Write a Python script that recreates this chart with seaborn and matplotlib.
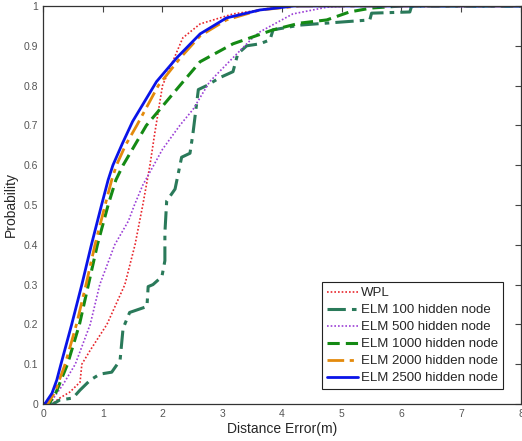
import matplotlib
matplotlib.use('Agg')
import matplotlib.pyplot as plt
import seaborn as sns

# CDF curves
wpl_x = [0, 0.15, 0.28, 0.45, 0.62, 0.65, 0.79, 1.07, 1.37, 1.54, 1.67, 1.79, 1.87, 2.0, 2.17, 2.34, 2.63, 3.18, 3.63, 4.0, 8]
wpl_y = [0, 0.0, 0.015, 0.03, 0.055, 0.10, 0.135, 0.20, 0.30, 0.40, 0.50, 0.60, 0.68, 0.80, 0.86, 0.92, 0.955, 0.98, 0.99, 1.0, 1.0]

elm100_x = [0, 0.17, 0.28, 0.5, 0.62, 0.79, 0.95, 1.15, 1.29, 1.34, 1.45, 1.74, 1.76, 1.84, 1.99, 2.04, 2.04, 2.07,
            2.21, 2.32, 2.46, 2.51, 2.6, 2.74, 2.96, 3.18, 3.26, 3.41, 3.63, 3.8, 3.85, 4.3, 5.47, 5.5, 6.14, 6.17, 8]
elm100_y = [0, 0, 0.01, 0.015, 0.035, 0.06, 0.075, 0.08, 0.11, 0.19, 0.23, 0.245, 0.295, 0.30, 0.32, 0.36, 0.43, 0.51,
            0.54, 0.62, 0.63, 0.68, 0.79, 0.80, 0.82, 0.835, 0.88, 0.90, 0.905, 0.915, 0.94, 0.952, 0.965, 0.982, 0.985, 1.0, 1.0]

elm500_x = [0, 0.12, 0.2, 0.34, 0.54, 0.79, 0.95, 1.2, 1.43, 1.53, 1.67, 2.0, 2.29, 2.51, 2.79, 3.18, 3.51, 3.63, 4.18, 4.75, 5.1, 8]
elm500_y = [0, 0, 0.02, 0.05, 0.10, 0.20, 0.30, 0.40, 0.46, 0.50, 0.55, 0.64, 0.70, 0.74, 0.81, 0.87, 0.92, 0.935, 0.98, 0.997, 1.0, 1.0]

elm1000_x = [0, 0.1, 0.22, 0.41, 0.61, 0.76, 0.91, 1.09, 1.22, 1.34, 1.73, 2.29, 2.63, 3.18, 3.85, 4.3, 4.75, 5.13, 5.5, 6.0, 8]
elm1000_y = [0, 0, 0.03, 0.10, 0.20, 0.30, 0.40, 0.50, 0.563, 0.60, 0.70, 0.80, 0.86, 0.905, 0.94, 0.957, 0.965, 0.985, 0.995, 1.0, 1.0]

elm2000_x = [0, 0.08, 0.2, 0.37, 0.56, 0.72, 0.87, 1.04, 1.15, 1.23, 1.38, 1.57, 1.93, 2.3, 2.63, 3.07, 3.63, 4.3, 8]
elm2000_y = [0, 0, 0.03, 0.10, 0.20, 0.30, 0.40, 0.50, 0.563, 0.60, 0.65, 0.70, 0.80, 0.87, 0.925, 0.965, 0.99, 1.0, 1.0]

elm2500_x = [0, 0.03, 0.15, 0.23, 0.30, 0.48, 0.65, 0.81, 0.98, 1.09, 1.17, 1.33, 1.5, 1.9, 2.24, 2.63, 3.07, 3.63, 4.2, 8]
elm2500_y = [0, 0, 0.027, 0.06, 0.10, 0.20, 0.30, 0.40, 0.50, 0.563, 0.60, 0.655, 0.71, 0.81, 0.87, 0.93, 0.97, 0.99, 1.0, 1.0]

labels = ['WPL', 'ELM 100 hidden node', 'ELM 500 hidden node',
          'ELM 1000 hidden node', 'ELM 2000 hidden node', 'ELM 2500 hidden node']

x_ticks = [0, 1, 2, 3, 4, 5, 6, 7, 8]
y_ticks = [0, 0.1, 0.2, 0.3, 0.4, 0.5, 0.6, 0.7, 0.8, 0.9, 1]
y_tick_labels = ['0', '0.1', '0.2', '0.3', '0.4', '0.5', '0.6', '0.7', '0.8', '0.9', '1']

sns.set_style('white')
plt.rcParams['font.family'] = ['Liberation Sans', 'DejaVu Sans']

fig = plt.figure(figsize=(5.22, 4.41), dpi=100)
ax = fig.add_axes([0.0824, 0.0839, 0.9156, 0.9025])

series = [
    (wpl_x, wpl_y, dict(color='#e8262c', linestyle=(0, (1, 1.2)), linewidth=1.2)),
    (elm100_x, elm100_y, dict(color='#2a7a5a', linestyle=(0, (6, 2, 1.5, 2)), linewidth=2.2)),
    (elm500_x, elm500_y, dict(color='#9b3fd6', linestyle=(0, (1, 1.2)), linewidth=1.2)),
    (elm1000_x, elm1000_y, dict(color='#148a14', linestyle=(0, (4, 2)), linewidth=2.2)),
    (elm2000_x, elm2000_y, dict(color='#e38a0c', linestyle=(0, (6, 2, 1.5, 2)), linewidth=2.0)),
    (elm2500_x, elm2500_y, dict(color='#0a14e8', linestyle='-', linewidth=2.0)),
]

for (xs, ys, style), lab in zip(series, labels):
    sns.lineplot(x=xs, y=ys, ax=ax, label=lab, sort=False, estimator=None, **style)

ax.set_xlim(0, 8)
ax.set_ylim(0, 1)
ax.set_xticks(x_ticks)
ax.set_xticklabels([str(t) for t in x_ticks])
ax.set_yticks(y_ticks)
ax.set_yticklabels(y_tick_labels)
ax.tick_params(direction='in', length=4, width=0.8, colors='#444444', labelsize=7.5,
               top=True, right=True, labelcolor='#555555')
for sp in ax.spines.values():
    sp.set_visible(True)
    sp.set_color('#333333')
    sp.set_linewidth(0.9)

ax.set_xlabel('Distance Error(m)', fontsize=10, labelpad=2)
ax.set_ylabel('Probability', fontsize=10, labelpad=4)

leg = ax.legend(loc='lower right', bbox_to_anchor=(0.962, 0.038), fontsize=9.5,
                frameon=True, fancybox=False, framealpha=1, edgecolor='#222222',
                handlelength=2.4, handletextpad=0.2, borderpad=0.35, labelspacing=0.36,
                borderaxespad=0)
leg.get_frame().set_linewidth(0.8)

fig.savefig('out.png', dpi=100)
